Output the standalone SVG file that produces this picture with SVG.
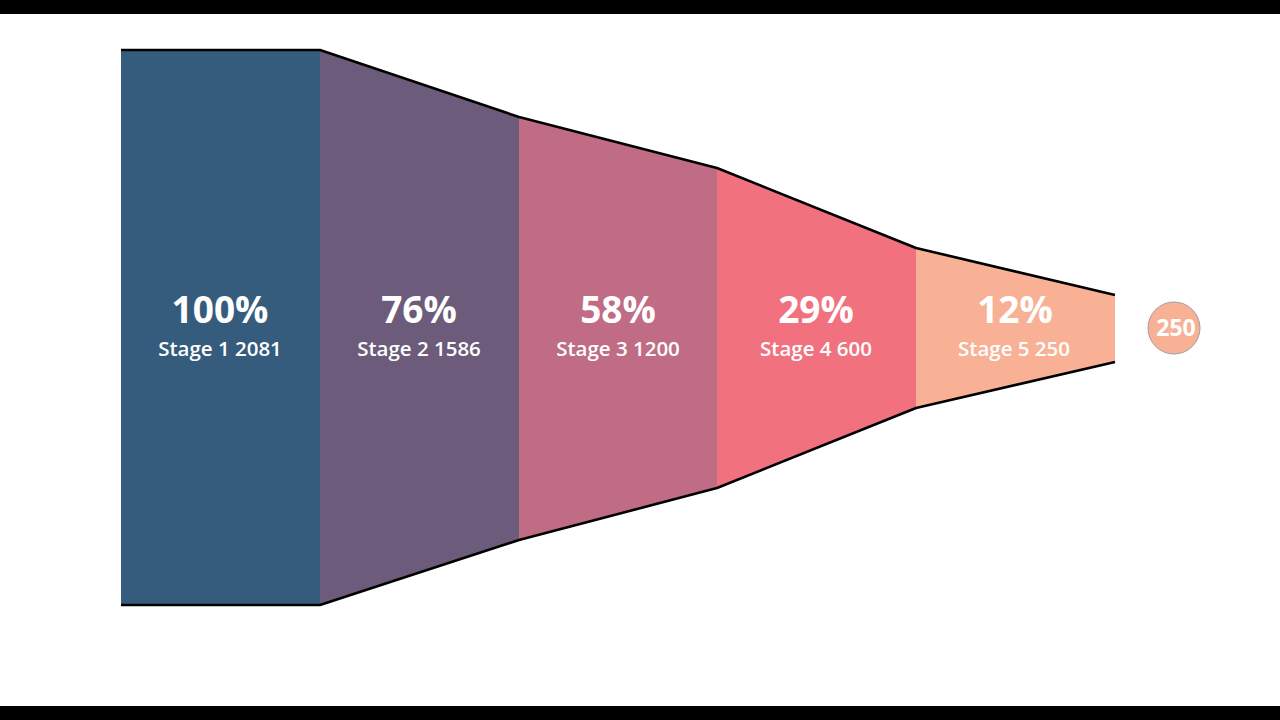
<svg xmlns="http://www.w3.org/2000/svg" width="1280" height="720" viewBox="0 0 1280 720">
<style>
.pct{font-family:"Open Sans","Liberation Sans",sans-serif;font-weight:700;font-size:37px;fill:#fff;text-anchor:middle}
.lbl{font-family:"Open Sans","Liberation Sans",sans-serif;font-weight:600;font-size:20.5px;fill:#fff;text-anchor:middle}
.edge{fill:none;stroke:#000;stroke-width:2.6;stroke-linejoin:round}
</style>
<rect x="0" y="0" width="1280" height="720" fill="#fff"/>
<rect x="0" y="0" width="1280" height="14" fill="#000"/>
<rect x="0" y="706" width="1280" height="14" fill="#000"/>
<g id="stage1">
<polygon points="121,50 320,50 320,605 121,605" fill="#355C7D"/>
<text class="pct" x="220" y="323">100%</text>
<text class="lbl" x="220" y="356">Stage 1 2081</text>
</g>
<g id="stage2">
<polygon points="320,50 519,117 519,540 320,605" fill="#6C5B7B"/>
<text class="pct" x="419" y="323">76%</text>
<text class="lbl" x="419" y="356">Stage 2 1586</text>
</g>
<g id="stage3">
<polygon points="519,117 717,168 717,488 519,540" fill="#C06C84"/>
<text class="pct" x="618" y="323">58%</text>
<text class="lbl" x="618" y="356">Stage 3 1200</text>
</g>
<g id="stage4">
<polygon points="717,168 916,248 916,408 717,488" fill="#F2717F"/>
<text class="pct" x="816" y="323">29%</text>
<text class="lbl" x="816" y="356">Stage 4 600</text>
</g>
<g id="stage5">
<polygon points="916,248 1115,295 1115,362 916,408" fill="#F8B195"/>
<text class="pct" x="1015" y="323">12%</text>
<text class="lbl" x="1014" y="356">Stage 5 250</text>
</g>
<g id="connectors">
<polyline class="edge" points="121,50 320,50 519,117 717,168 916,248 1115,295"/>
<polyline class="edge" points="121,605 320,605 519,540 717,488 916,408 1115,362"/>
</g>
<g id="total">
<circle cx="1174" cy="328" r="26" fill="#F8B195" stroke="#A0A0A0" stroke-width="1"/>
<text x="1176" y="336" font-family="Open Sans, Liberation Sans, sans-serif" font-weight="700" font-size="23" fill="#fff" text-anchor="middle">250</text>
</g>
</svg>
